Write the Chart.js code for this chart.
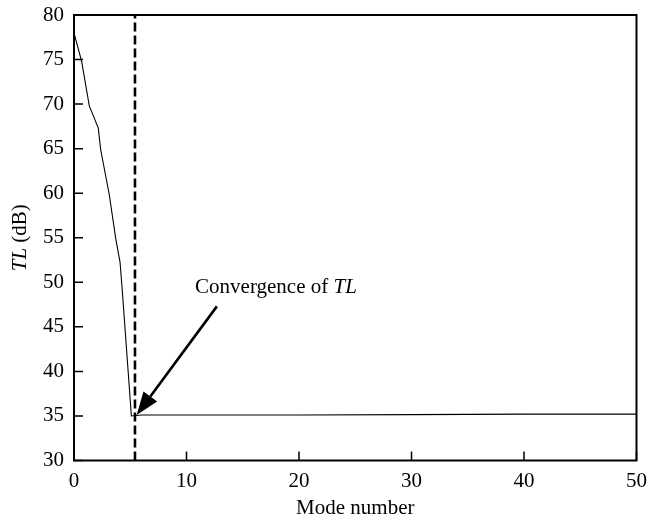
<!DOCTYPE html>
<html>
<head>
<meta charset="utf-8">
<script src="https://cdn.jsdelivr.net/npm/chart.js@4/dist/chart.umd.min.js"></script>
<style>
html,body{margin:0;padding:0;background:#fff;}
#wrap{position:relative;width:648px;height:521px;}
</style>
</head>
<body>
<div id="wrap"><canvas id="c" width="648" height="521"></canvas></div>
<script>
// Data
const modeNumber = [0, 0.68, 1.36, 2.16, 2.37, 3.14, 3.71, 4.09, 4.29, 5.1, 6, 10, 20, 30, 40, 50];
const tlValues   = [78.0, 74.8, 69.8, 67.3, 64.9, 59.8, 54.9, 52.3, 49.1, 35.0, 35.1, 35.1, 35.1, 35.15, 35.2, 35.2];
const convergenceMode = [5.42];
const xTicks = [0, 10, 20, 30, 40, 50];
const yTicks = [30, 35, 40, 45, 50, 55, 60, 65, 70, 75, 80];
const annotationText = ["Convergence of ", "TL"];
const arrowFrom = [12.7, 47.3];
const arrowTo = [5.57, 35.1];
const labelAt = [10.76, 48.8];

const FONT = "'Liberation Serif', 'DejaVu Serif', serif";
const FS = 21;

const framePlugin = {
  id: 'frame',
  afterDatasetsDraw(chart) {
    const {ctx, chartArea: a, scales: {x, y}} = chart;
    ctx.save();
    ctx.strokeStyle = '#000';
    ctx.lineWidth = 2;
    ctx.strokeRect(a.left, a.top, a.right - a.left, a.bottom - a.top);
    ctx.lineWidth = 1.5;
    ctx.beginPath();
    xTicks.forEach(v => { const px = x.getPixelForValue(v); ctx.moveTo(px, a.bottom); ctx.lineTo(px, a.bottom - 9); });
    yTicks.forEach(v => { const py = y.getPixelForValue(v); ctx.moveTo(a.left, py); ctx.lineTo(a.left + 9, py); });
    ctx.stroke();
    // arrow
    const x0 = x.getPixelForValue(arrowFrom[0]), y0 = y.getPixelForValue(arrowFrom[1]);
    const x1 = x.getPixelForValue(arrowTo[0]), y1 = y.getPixelForValue(arrowTo[1]);
    const ang = Math.atan2(y1 - y0, x1 - x0);
    const hl = 23, hw = 8.5;
    const bx = x1 - hl * Math.cos(ang), by = y1 - hl * Math.sin(ang);
    ctx.lineWidth = 2.6;
    ctx.beginPath(); ctx.moveTo(x0, y0); ctx.lineTo(bx, by); ctx.stroke();
    ctx.fillStyle = '#000';
    ctx.beginPath();
    ctx.moveTo(x1, y1);
    ctx.lineTo(bx + hw * Math.sin(ang), by - hw * Math.cos(ang));
    ctx.lineTo(bx - hw * Math.sin(ang), by + hw * Math.cos(ang));
    ctx.closePath(); ctx.fill();
    // annotation text
    ctx.textBaseline = 'alphabetic';
    ctx.textAlign = 'left';
    let tx = x.getPixelForValue(labelAt[0]);
    const ty = y.getPixelForValue(labelAt[1]);
    ctx.font = FS + 'px ' + FONT;
    ctx.fillText(annotationText[0], tx, ty);
    tx += ctx.measureText(annotationText[0]).width;
    ctx.font = 'italic ' + FS + 'px ' + FONT;
    ctx.fillText(annotationText[1], tx, ty);
    // axis titles
    ctx.textAlign = 'center';
    ctx.font = FS + 'px ' + FONT;
    ctx.fillText('Mode number', (a.left + a.right) / 2, 514);
    ctx.save();
    ctx.translate(26, (a.top + a.bottom) / 2);
    ctx.rotate(-Math.PI / 2);
    ctx.font = 'italic ' + FS + 'px ' + FONT;
    const w1 = ctx.measureText('TL').width;
    ctx.font = FS + 'px ' + FONT;
    const w2 = ctx.measureText(' (dB)').width;
    const start = -(w1 + w2) / 2;
    ctx.textAlign = 'left';
    ctx.font = 'italic ' + FS + 'px ' + FONT;
    ctx.fillText('TL', start, 0);
    ctx.font = FS + 'px ' + FONT;
    ctx.fillText(' (dB)', start + w1, 0);
    ctx.restore();
    ctx.restore();
  }
};

new Chart(document.getElementById('c'), {
  type: 'scatter',
  data: {
    datasets: [
      {
        data: modeNumber.map((m, i) => ({x: m, y: tlValues[i]})),
        showLine: true, borderColor: '#000', borderWidth: 1.1, pointRadius: 0, tension: 0
      },
      {
        data: [{x: convergenceMode[0], y: 30}, {x: convergenceMode[0], y: 80}],
        showLine: true, borderColor: '#000', borderWidth: 2.6, borderDash: [9, 4], pointRadius: 0
      }
    ]
  },
  options: {
    responsive: false,
    animation: false,
    devicePixelRatio: 1,
    layout: {padding: {top: 15, right: 11.5, left: 0, bottom: 0}},
    plugins: {legend: {display: false}, tooltip: {enabled: false}},
    scales: {
      x: {
        type: 'linear', min: 0, max: 50,
        afterBuildTicks: s => { s.ticks = xTicks.map(v => ({value: v})); },
        afterFit: s => { s.height = 60.5; s.paddingLeft = 0; s.paddingRight = 0; },
        grid: {display: false, drawTicks: false},
        border: {display: false},
        ticks: {color: '#000', font: {family: FONT, size: FS}, padding: 8, maxRotation: 0}
      },
      y: {
        type: 'linear', min: 30, max: 80,
        afterBuildTicks: s => { s.ticks = yTicks.map(v => ({value: v})); },
        afterFit: s => { s.width = 74; s.paddingTop = 0; s.paddingBottom = 0; },
        grid: {display: false, drawTicks: false},
        border: {display: false},
        ticks: {color: '#000', font: {family: FONT, size: FS}, padding: 10}
      }
    }
  },
  plugins: [framePlugin]
});
</script>
</body>
</html>
